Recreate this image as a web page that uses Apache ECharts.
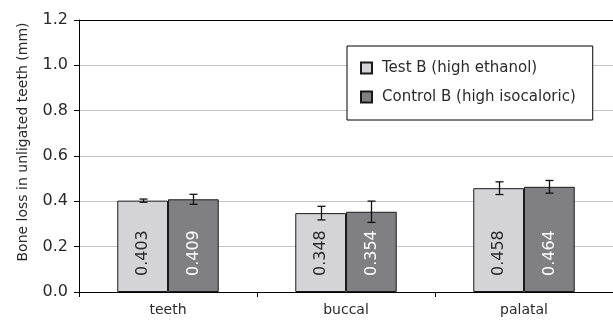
<!DOCTYPE html>
<html>
<head>
<meta charset="utf-8">
<script src="https://cdn.jsdelivr.net/npm/echarts@6/dist/echarts.min.js"></script>
<style>html,body{margin:0;padding:0;background:#fff}#c{width:613px;height:320px}</style>
</head>
<body>
<div id="c"></div>
<script>
var categories = ['teeth', 'buccal', 'palatal'];
var seriesNames = ['Test B (high ethanol)', 'Control B (high isocaloric)'];
var testValues = [0.403, 0.348, 0.458];
var controlValues = [0.409, 0.354, 0.464];
var testErrors = [0.007, 0.030, 0.028];
var controlErrors = [0.022, 0.047, 0.028];
var yAxisTitle = 'Bone loss in unligated teeth (mm)';

var FONT = '"DejaVu Sans", "Liberation Sans", sans-serif';
var GAP = 0.43;
var TXT = '#2a2a2a';

function errorSeries(name, values, errors, idx) {
  var data = values.map(function (v, i) { return [i, v - errors[i], v + errors[i]]; });
  return {
    type: 'custom',
    name: name + ' err',
    z: 10,
    silent: true,
    data: data,
    renderItem: function (params, api) {
      var band = api.size([1, 0])[0];
      var barW = band * (1 - GAP) / 2;
      var off = idx === 0 ? -barW / 2 : barW / 2;
      var lo = api.coord([api.value(0), api.value(1)]);
      var hi = api.coord([api.value(0), api.value(2)]);
      var x = Math.round(lo[0] + off) + 0.5;
      var cap = 4;
      var st = { stroke: '#111', lineWidth: 1.3 };
      return {
        type: 'group',
        children: [
          { type: 'line', shape: { x1: x, y1: lo[1], x2: x, y2: hi[1] }, style: st },
          { type: 'line', shape: { x1: x - cap, y1: lo[1], x2: x + cap, y2: lo[1] }, style: st },
          { type: 'line', shape: { x1: x - cap, y1: hi[1], x2: x + cap, y2: hi[1] }, style: st }
        ]
      };
    }
  };
}

var chart = echarts.init(document.getElementById('c'), null, { renderer: 'canvas' });
chart.setOption({
  animation: false,
  textStyle: { fontFamily: FONT },
  grid: { left: 79, right: 0, top: 20, bottom: 28 },
  graphic: [{
    type: 'text',
    x: 23, y: 142,
    rotation: Math.PI / 2,
    style: {
      text: yAxisTitle,
      font: '14px ' + FONT,
      fill: TXT,
      align: 'center',
      verticalAlign: 'middle'
    }
  }],
  legend: {
    data: seriesNames,
    orient: 'vertical',
    left: 347, top: 46,
    padding: [13, 17, 14, 13],
    itemGap: 11,
    itemWidth: 11, itemHeight: 11,
    backgroundColor: '#fff',
    borderColor: '#000', borderWidth: 1,
    icon: 'rect',
    textStyle: { fontSize: 15, lineHeight: 18, color: TXT, fontFamily: FONT, padding: [0, 0, 0, 5] }
  },
  xAxis: [{
    type: 'category',
    data: categories,
    axisLine: { lineStyle: { color: '#000', width: 1 } },
    axisTick: { show: true, length: 5, lineStyle: { color: '#000' } },
    axisLabel: { fontSize: 14, color: TXT, margin: 11, fontFamily: FONT },
    splitLine: { show: false }
  }, {
    type: 'category',
    position: 'top',
    data: categories,
    axisLine: { show: true, lineStyle: { color: '#000', width: 1 } },
    axisTick: { show: false },
    axisLabel: { show: false }
  }],
  yAxis: {
    type: 'value',
    min: 0, max: 1.2, interval: 0.2,
    axisLine: { show: true, lineStyle: { color: '#000', width: 1 } },
    axisTick: { show: true, length: 5, lineStyle: { color: '#000' } },
    axisLabel: {
      fontSize: 16, color: TXT, margin: 11, fontFamily: FONT,
      formatter: function (v) { return v.toFixed(1); }
    },
    splitLine: { show: true, lineStyle: { color: '#c4c4c4', width: 1 } }
  },
  series: [{
    name: seriesNames[0],
    type: 'bar',
    data: testValues,
    barGap: '0%',
    barCategoryGap: (GAP * 100) + '%',
    itemStyle: { color: '#d4d4d6', borderColor: '#1a1a1a', borderWidth: 1 },
    label: {
      show: true, position: 'insideBottom', rotate: 90, distance: 16,
      align: 'left', verticalAlign: 'middle',
      formatter: function (p) { return p.value.toFixed(3); },
      fontSize: 16, color: TXT, fontFamily: FONT
    }
  }, {
    name: seriesNames[1],
    type: 'bar',
    data: controlValues,
    itemStyle: { color: '#808083', borderColor: '#1a1a1a', borderWidth: 1 },
    label: {
      show: true, position: 'insideBottom', rotate: 90, distance: 16,
      align: 'left', verticalAlign: 'middle',
      formatter: function (p) { return p.value.toFixed(3); },
      fontSize: 16, color: '#fff', fontFamily: FONT
    }
  },
  errorSeries(seriesNames[0], testValues, testErrors, 0),
  errorSeries(seriesNames[1], controlValues, controlErrors, 1)
  ]
});
</script>
</body>
</html>
